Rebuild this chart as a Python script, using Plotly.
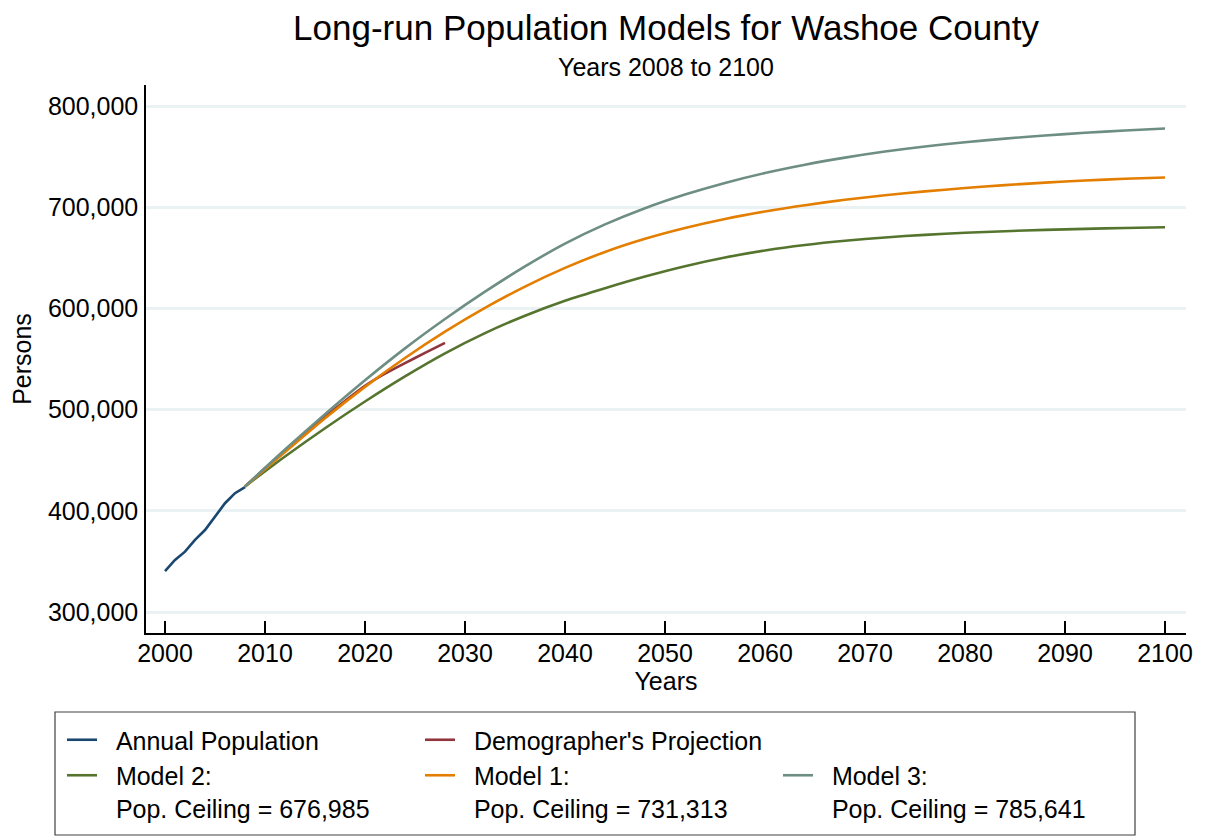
import plotly.graph_objects as go

# ---------------- data ----------------
hist_years = [2000, 2001, 2002, 2003, 2004, 2005, 2006, 2007, 2008]
hist_pop = [340500, 351400, 359600, 371200, 381000, 394000, 407500, 417400, 423300]

demog_years = [2008, 2010, 2012, 2014, 2016, 2018, 2020, 2022, 2024, 2026, 2028]
demog_pop = [424000, 442000, 459500, 476500, 493000, 508500, 523500, 535500, 546000, 556000, 566000]

model_years = [2008, 2012, 2016, 2020, 2024, 2028, 2032, 2036, 2040, 2044, 2048, 2052,
               2056, 2060, 2064, 2068, 2072, 2076, 2080, 2084, 2088, 2092, 2096, 2100]
model2_pop = [424000, 453600, 481600, 508000, 532800, 555600, 575600, 592800, 607600, 620000, 631500, 641700,
              650300, 657200, 662600, 666800, 670100, 672700, 674700, 676300, 677600, 678600, 679500, 680200]
model1_pop = [424000, 458000, 491500, 522500, 551000, 577000, 600500, 621500, 640000, 655800, 668800, 679500,
              688400, 695800, 702000, 707300, 711800, 715600, 718900, 721800, 724300, 726400, 728100, 729400]
model3_pop = [424000, 460500, 495500, 529000, 560500, 589500, 616500, 641500, 664000, 683000, 699000, 712500,
              724000, 733800, 742000, 749000, 755000, 760000, 764200, 767800, 770900, 773500, 775800, 777800]

x_ticks = [2000, 2010, 2020, 2030, 2040, 2050, 2060, 2070, 2080, 2090, 2100]
y_ticks = [300000, 400000, 500000, 600000, 700000, 800000]

PAD = "&nbsp;&nbsp;"
names = {
    "hist": PAD + "Annual Population",
    "demog": PAD + "Demographer's Projection",
    "m2": PAD + "Model 2:<br>" + PAD + "Pop. Ceiling = 676,985",
    "m1": PAD + "Model 1:<br>" + PAD + "Pop. Ceiling = 731,313",
    "m3": PAD + "Model 3:<br>" + PAD + "Pop. Ceiling = 785,641",
}
colors = {"hist": "#1a476f", "demog": "#90353b", "m2": "#55752f", "m1": "#e37e00", "m3": "#6e8e84"}

FONT = "Liberation Sans, Arial, sans-serif"
LW = 2.6

fig = go.Figure()
fig.add_trace(go.Scatter(x=hist_years, y=hist_pop, mode="lines", name=names["hist"],
                         line=dict(color=colors["hist"], width=LW)))
fig.add_trace(go.Scatter(x=demog_years, y=demog_pop, mode="lines", name=names["demog"],
                         line=dict(color=colors["demog"], width=LW, shape="spline", smoothing=0.8)))
# empty legend slot (keeps the 3-column legend layout)
fig.add_trace(go.Scatter(x=[None], y=[None], mode="lines", name=" ",
                         line=dict(color="rgba(0,0,0,0)", width=LW), hoverinfo="skip"))
fig.add_trace(go.Scatter(x=model_years, y=model2_pop, mode="lines", name=names["m2"],
                         line=dict(color=colors["m2"], width=LW, shape="spline", smoothing=0.8)))
fig.add_trace(go.Scatter(x=model_years, y=model1_pop, mode="lines", name=names["m1"],
                         line=dict(color=colors["m1"], width=LW, shape="spline", smoothing=0.8)))
fig.add_trace(go.Scatter(x=model_years, y=model3_pop, mode="lines", name=names["m3"],
                         line=dict(color=colors["m3"], width=LW, shape="spline", smoothing=0.8)))

# page has an 8px body margin -> figure is drawn 8px smaller
OFF = 8
W, H = 1205 - OFF, 836 - OFF
ML, MT = 146 - OFF, 85 - OFF
PLOT_R, PLOT_B = 1186 - OFF, 633 - OFF
MR, MB = W - PLOT_R, H - PLOT_B
PW, PH = PLOT_R - ML, PLOT_B - MT

def px_x(ref_px):
    return (ref_px - OFF - ML) / PW

def px_y(ref_py):
    return (PLOT_B - (ref_py - OFF)) / PH

fig.update_layout(
    width=W, height=H,
    margin=dict(l=ML, r=MR, t=MT, b=MB, autoexpand=False),
    paper_bgcolor="white", plot_bgcolor="white",
    font=dict(family=FONT, size=25, color="black"),
    title=dict(text="Long-run Population Models for Washoe County",
               font=dict(family=FONT, size=35, color="black"),
               x=px_x(666), xanchor="center", xref="paper",
               y=1 - (28 - OFF) / H, yanchor="middle", yref="container"),
    annotations=[dict(text="Years 2008 to 2100", xref="paper", yref="paper",
                      x=px_x(666), y=px_y(67), xanchor="center", yanchor="middle",
                      showarrow=False, font=dict(family=FONT, size=25, color="black"))],
    shapes=[dict(type="rect", xref="paper", yref="paper",
                 x0=px_x(55), x1=px_x(1135), y0=px_y(835), y1=px_y(712),
                 line=dict(color="#404040", width=1.2), fillcolor="rgba(0,0,0,0)", layer="above")],
    showlegend=True,
    legend=dict(orientation="h", x=px_x(62), y=px_y(717), xanchor="left", yanchor="top",
                font=dict(family=FONT, size=25, color="black"),
                bgcolor="rgba(0,0,0,0)", borderwidth=0,
                itemwidth=30, entrywidth=313, entrywidthmode="pixels",
                valign="top", traceorder="normal", itemclick=False),
    xaxis=dict(range=[1998.1, 2102.1], tickvals=x_ticks, ticks="inside", ticklen=12,
               tickwidth=1.5, tickcolor="black", showline=True, linecolor="black", linewidth=1.5,
               showgrid=False, zeroline=False, tickfont=dict(size=25),
               ticklabelstandoff=-3,
               title=dict(text="Years", font=dict(size=25), standoff=0)),
    yaxis=dict(range=[279260, 820750], tickvals=y_ticks, tickformat=",", ticks="",
               showline=True, linecolor="black", linewidth=1.5,
               showgrid=True, gridcolor="#eaf2f3", gridwidth=2.5, zeroline=False,
               tickfont=dict(size=25), ticklabelstandoff=1,
               title=dict(text="Persons", font=dict(size=25), standoff=14)),
)

fig.write_html("out.html")
